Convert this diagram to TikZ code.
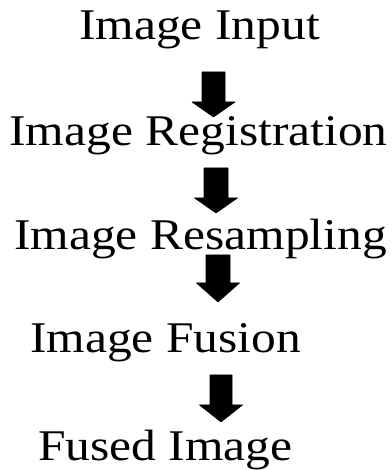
\documentclass[tikz,border=0pt]{standalone}
\usepackage{fontspec}
\setmainfont{Liberation Serif}
\usetikzlibrary{calc}
\newcommand\DownBlock[6]{% x, top, headstart, tip, shaft half, head half
  \fill[blockarrow] (#1-#5,#2) -- (#1+#5,#2) -- (#1+#5,#3) -- (#1+#6,#3) -- (#1,#4)
    -- (#1-#6,#3) -- (#1-#5,#3) -- cycle;}
\begin{document}
\begin{tikzpicture}[x=1pt,y=1pt,
  lbl/.style={anchor=base,inner sep=0pt,font=\fontsize{43.8}{50}\selectfont},
  blockarrow/.style={fill=black,draw=black,line width=0.6pt,line join=round}]
\useasboundingbox (0,0) rectangle (391,470);
\node[lbl] (input) at (199.5,430) {\scalebox{1.13}[1]{Image Input}};
\node[lbl] (reg) at (198.5,324) {\scalebox{1.13}[1]{Image Registration}};
\node[lbl] (res) at (200.5,220) {\scalebox{1.13}[1]{Image Resampling}};
\node[lbl] (fus) at (165.5,117) {\scalebox{1.13}[1]{Image Fusion}};
\node[lbl] (out) at (165.5,9.8) {\scalebox{1.13}[1]{Fused Image}};
\DownBlock{213.5}{398}{368}{353}{11.5}{21.5}
\DownBlock{216}{302}{272}{257}{12}{21.5}
\DownBlock{218}{215}{187}{168}{12}{21.5}
\DownBlock{221}{95}{65}{48}{11}{21.5}
\end{tikzpicture}
\end{document}
